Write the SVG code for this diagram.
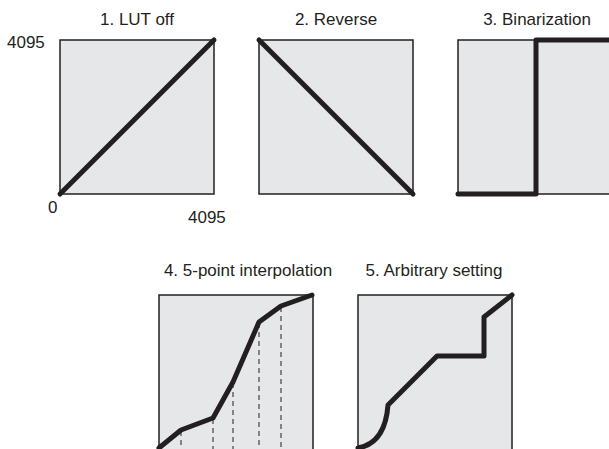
<svg xmlns="http://www.w3.org/2000/svg" width="609" height="449" viewBox="0 0 609 449">
<style>
.box{fill:#e6e7e8;stroke:#231f20;stroke-width:1.5}
.curve{fill:none;stroke:#231f20;stroke-width:5;stroke-linecap:round;stroke-linejoin:round}
.dash{fill:none;stroke:#231f20;stroke-width:1;stroke-dasharray:5,4}
text{font-family:"Liberation Sans",Arial,sans-serif;font-size:17px;fill:#231f20}
.t{text-anchor:middle}
</style>
<rect width="609" height="449" fill="#ffffff"/>
<g id="panel1">
<text class="t" x="137" y="25">1. LUT off</text>
<rect class="box" x="60" y="40" width="154" height="154"/>
<text x="7" y="48">4095</text>
<text x="48" y="213">0</text>
<text x="188" y="223">4095</text>
</g>
<g id="panel2">
<text class="t" x="336" y="25">2. Reverse</text>
<rect class="box" x="259" y="40" width="154" height="154"/>
</g>
<g id="panel3">
<text class="t" x="537" y="25">3. Binarization</text>
<rect class="box" x="458" y="40" width="154" height="154"/>
</g>
<g id="panel4">
<text class="t" x="248" y="276">4. 5-point interpolation</text>
<rect class="box" x="159" y="295" width="154" height="156"/>
</g>
<g id="panel5">
<text class="t" x="434" y="276">5. Arbitrary setting</text>
<rect class="box" x="358" y="295" width="154" height="156"/>
</g>
<g id="curves">
<path class="curve" d="M60,194 L214,40"/>
<path class="curve" d="M259,40 L413,194"/>
<path class="curve" d="M458,194 L536,194 L536,40 L612,40"/>
<g class="dash">
<path d="M181,431 V449"/>
<path d="M213,419 V449"/>
<path d="M233,383 V449"/>
<path d="M259,323 V449"/>
<path d="M281,307 V449"/>
</g>
<path class="curve" d="M159,448 L181,430 L213,418 L233,382 L259,322 L281,306 L312,295"/>
<path class="curve" d="M358,448 C375,445 386,432 388,405 L437,356 L484,356 L484,317 L512,295"/>
</g>
</svg>
